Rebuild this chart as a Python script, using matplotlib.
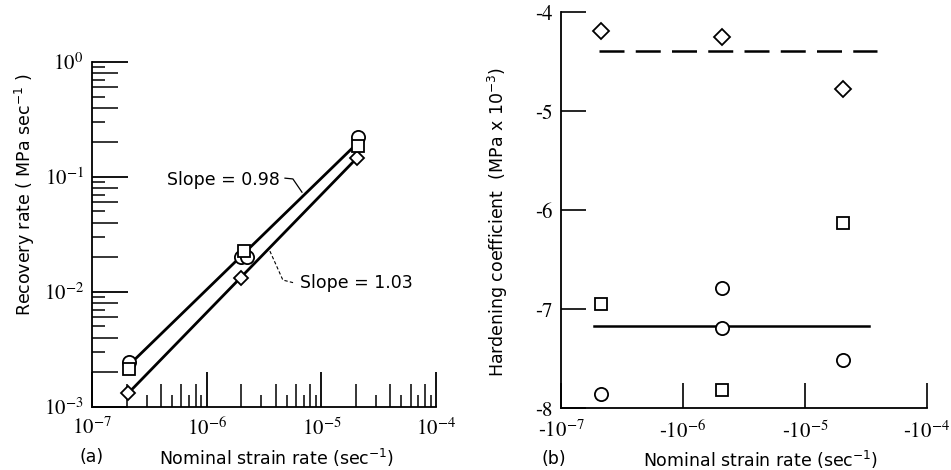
import numpy as np
import matplotlib
matplotlib.use("Agg")
import matplotlib.pyplot as plt
from matplotlib.ticker import LogLocator, FixedLocator, NullLocator, FuncFormatter

plt.rcParams["mathtext.fontset"] = "stix"
plt.rcParams["font.family"] = ["DejaVu Sans"]

# ---------------- data: panel (a) recovery rate ----------------
a_circle_x = [2.11e-7, 1.98e-6, 2.26e-6, 2.10e-5]
a_circle_y = [2.46e-3, 2.01e-2, 2.01e-2, 0.223]
a_square_x = [2.11e-7, 2.13e-6, 2.10e-5]
a_square_y = [2.13e-3, 2.26e-2, 0.186]
a_diamond_x = [2.07e-7, 1.99e-6, 2.03e-5]
a_diamond_y = [1.31e-3, 1.31e-2, 0.145]
fit_upper_x = [2.1e-7, 2.1e-5]
fit_upper_y = [2.3e-3, 0.20]
fit_lower_x = [2.07e-7, 2.03e-5]
fit_lower_y = [1.31e-3, 0.145]
slope_labels = ["Slope = 0.98", "Slope = 1.03"]

# ---------------- data: panel (b) hardening coefficient ----------------
b_diamond_x = [2.12e-7, 2.10e-6, 2.06e-5]
b_diamond_y = [-4.19, -4.25, -4.77]
b_square_x = [2.12e-7, 2.10e-6, 2.06e-5]
b_square_y = [-6.95, -7.82, -6.13]
b_circle_x = [2.12e-7, 2.10e-6, 2.10e-6, 2.06e-5]
b_circle_y = [-7.86, -6.78, -7.19, -7.51]
mean_dash_x = [2.05e-7, 3.89e-5]
mean_dash_y = [-4.39, -4.39]
mean_solid_x = [1.86e-7, 3.35e-5]
mean_solid_y = [-7.17, -7.17]

log_ticks = [1e-7, 1e-6, 1e-5, 1e-4]
a_xticklabels = [r"$10^{-7}$", r"$10^{-6}$", r"$10^{-5}$", r"$10^{-4}$"]
a_yticks = [1e-3, 1e-2, 1e-1, 1e0]
a_yticklabels = [r"$10^{-3}$", r"$10^{-2}$", r"$10^{-1}$", r"$10^{0}$"]
b_xticklabels = [r"-$10^{-7}$", r"-$10^{-6}$", r"-$10^{-5}$", r"-$10^{-4}$"]
b_yticks = [-8, -7, -6, -5, -4]
b_yticklabels = ["-8", "-7", "-6", "-5", "-4"]

W, H = 951, 470
fig = plt.figure(figsize=(W / 100, H / 100), dpi=100)

def px_axes(l, t, r, b):
    return fig.add_axes([l / W, 1 - b / H, (r - l) / W, (b - t) / H])

TICKFONT = dict(family="STIXGeneral", size=15)
LABFS = 12.5
mk = dict(mfc="white", mec="black", mew=1.3, ls="none")

# ================= panel (a) =================
ax = px_axes(92, 62, 436, 406.7)
ax.set_xscale("log")
ax.set_yscale("log")
ax.set_xlim(1e-7, 1e-4)
ax.set_ylim(1e-3, 1e0)
for s in ("top", "right"):
    ax.spines[s].set_visible(False)
for s in ("left", "bottom"):
    ax.spines[s].set_linewidth(1.3)

ax.plot(fit_upper_x, fit_upper_y, color="black", lw=2.0, zorder=2)
ax.plot(fit_lower_x, fit_lower_y, color="black", lw=2.0, zorder=2)
ax.plot(a_circle_x, a_circle_y, marker="o", ms=9.5, zorder=3, **mk)
ax.plot(a_square_x, a_square_y, marker="s", ms=8.5, zorder=4, **mk)
ax.plot(a_diamond_x, a_diamond_y, marker="D", ms=7.5, zorder=3, **mk)

# slope annotations
ax.text(4.36e-6, 0.0935, slope_labels[0], ha="right", va="center", fontsize=12.5)
ax.plot([4.82e-6, 5.65e-6, 6.78e-6], [0.0975, 0.096, 0.0736], color="black", lw=0.9)
ax.text(6.5e-6, 0.0119, slope_labels[1], ha="left", va="center", fontsize=12.5)
ax.plot([3.56e-6, 4.62e-6, 5.89e-6], [0.0226, 0.01265, 0.0119], color="black",
        lw=0.8, ls=(0, (3, 2)))

ax.xaxis.set_major_locator(FixedLocator(log_ticks))
ax.set_xticklabels(a_xticklabels, fontdict=TICKFONT)
ax.yaxis.set_major_locator(FixedLocator(a_yticks))
ax.set_yticklabels(a_yticklabels, fontdict=TICKFONT)
ax.xaxis.set_minor_locator(LogLocator(base=10, subs=np.arange(2, 10), numticks=20))
ax.yaxis.set_minor_locator(LogLocator(base=10, subs=np.arange(2, 10), numticks=20))
ax.xaxis.set_minor_formatter(FuncFormatter(lambda v, p: ""))
ax.yaxis.set_minor_formatter(FuncFormatter(lambda v, p: ""))
ax.tick_params(axis="x", which="major", direction="in", length=25, width=1.3, pad=8)
ax.tick_params(axis="y", which="major", direction="in", length=26, width=1.3, pad=6)
ax.tick_params(which="minor", direction="in", width=1.1)
ax.tick_params(top=False, right=False, which="both")


def style_minor(axis, long_len, short_len):
    locs = axis.get_minorticklocs()
    ticks = axis.get_minor_ticks(len(locs))
    for t, loc in zip(ticks, locs):
        m = loc / 10 ** np.floor(np.log10(loc) + 1e-9)
        L = long_len if int(round(m)) % 2 == 0 else short_len
        t.tick1line.set_markersize(L)


style_minor(ax.xaxis, 16.5, 8.6)
style_minor(ax.yaxis, 18.7, 9.4)

ax.set_xlabel("Nominal strain rate (sec$^{-1}$)", fontsize=LABFS, math_fontfamily="dejavusans")
ax.xaxis.set_label_coords(0.538, -0.149)
ax.xaxis.label.set_va("center")
ax.set_ylabel("Recovery rate ( MPa sec$^{-1}$ )", fontsize=LABFS, math_fontfamily="dejavusans")
ax.yaxis.set_label_coords(-0.195, 0.614)
ax.yaxis.label.set_va("center")
fig.text(92 / W, 1 - 457 / H, "(a)", ha="center", va="center", fontsize=LABFS)

# ================= panel (b) =================
bx = px_axes(561, 12.3, 927, 408.3)
bx.set_xscale("log")
bx.set_xlim(1e-7, 1e-4)
bx.set_ylim(-8, -4)
for s in ("top", "right"):
    bx.spines[s].set_visible(False)
for s in ("left", "bottom"):
    bx.spines[s].set_linewidth(1.3)

bx.plot(mean_dash_x, mean_dash_y, color="black", lw=1.8, dashes=(10, 4.5), zorder=2)
bx.plot(mean_solid_x, mean_solid_y, color="black", lw=1.8, zorder=2)
bx.plot(b_diamond_x, b_diamond_y, marker="D", ms=8, zorder=3, **mk)
bx.plot(b_square_x, b_square_y, marker="s", ms=9, zorder=3, **mk)
bx.plot(b_circle_x, b_circle_y, marker="o", ms=9.5, zorder=3, **mk)

bx.xaxis.set_major_locator(FixedLocator(log_ticks))
bx.set_xticklabels(b_xticklabels, fontdict=TICKFONT)
bx.xaxis.set_minor_locator(NullLocator())
bx.yaxis.set_major_locator(FixedLocator(b_yticks))
bx.set_yticklabels(b_yticklabels, fontdict=TICKFONT)
bx.tick_params(axis="both", which="major", direction="in", length=18, width=1.2)
bx.tick_params(axis="x", pad=9)
bx.tick_params(axis="y", pad=6)
bx.tick_params(top=False, right=False)

bx.set_xlabel("Nominal strain rate (sec$^{-1}$)", fontsize=LABFS, math_fontfamily="dejavusans")
bx.xaxis.set_label_coords(0.544, -0.131)
bx.xaxis.label.set_va("center")
bx.set_ylabel("Hardening coefficient  (MPa x 10$^{-3}$)", fontsize=LABFS,
              math_fontfamily="dejavusans")
bx.yaxis.set_label_coords(-0.172, 0.470)
bx.yaxis.label.set_va("center")
fig.text(554 / W, 1 - 459 / H, "(b)", ha="center", va="center", fontsize=LABFS)

fig.savefig("out.png", dpi=100, facecolor="white")
